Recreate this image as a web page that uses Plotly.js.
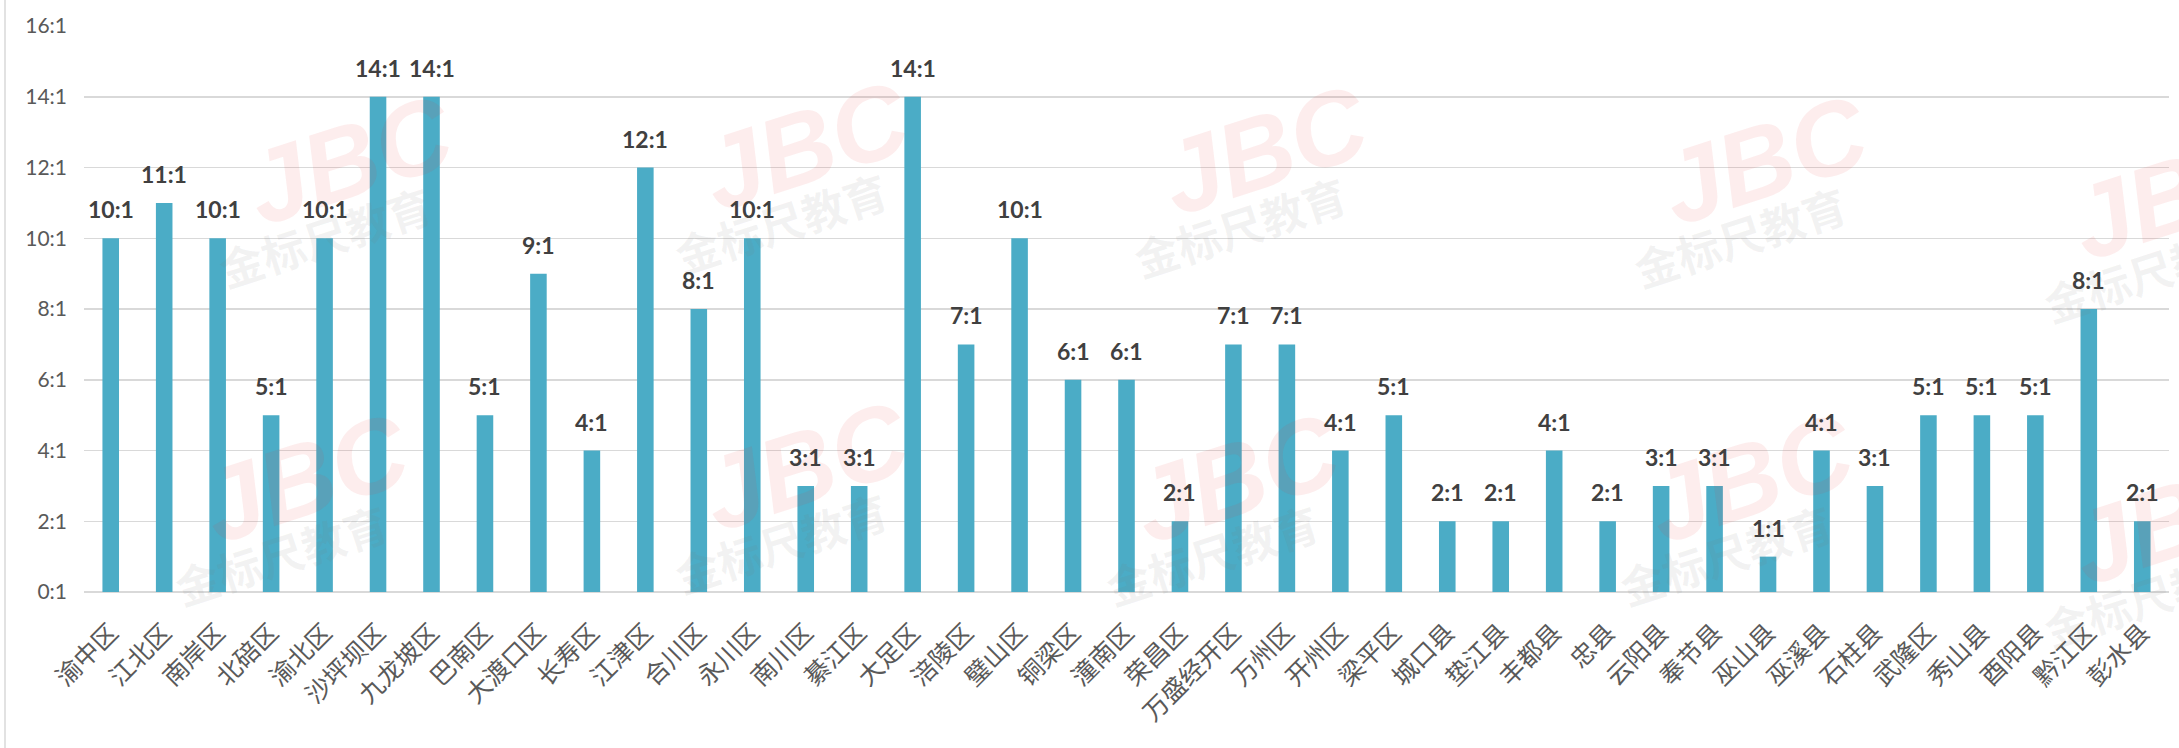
<!DOCTYPE html>
<html>
<head>
<meta charset="utf-8">
<script src="https://cdn.plot.ly/plotly-3.0.1.min.js"></script>
<style>html,body{margin:0;padding:0;background:#fff;}#chart{width:2179px;height:748px;}</style>
</head>
<body>
<div id="chart"></div>
<script>
var districts = ["渝中区","江北区","南岸区","北碚区","渝北区","沙坪坝区","九龙坡区","巴南区","大渡口区","长寿区","江津区","合川区","永川区","南川区","綦江区","大足区","涪陵区","璧山区","铜梁区","潼南区","荣昌区","万盛经开区","万州区","开州区","梁平区","城口县","垫江县","丰都县","忠县","云阳县","奉节县","巫山县","巫溪县","石柱县","武隆区","秀山县","酉阳县","黔江区","彭水县"];
var ratios = [10,11,10,5,10,14,14,5,9,4,12,8,10,3,3,14,7,10,6,6,2,7,7,4,5,2,2,4,2,3,3,1,4,3,5,5,5,8,2];
var yTickValues = [0,2,4,6,8,10,12,14,16];
var yTickLabels = ["0:1","2:1","4:1","6:1","8:1","10:1","12:1","14:1","16:1"];
var watermarkBrand = "JBC";
var watermarkName = "金标尺教育";

var trace = {
  type: 'bar',
  x: districts,
  y: ratios,
  marker: {color: '#4BACC6'},
  hoverinfo: 'x+y'
};

var annotations = [];
var wmSpots = [[350,160],[806,146],[1265,150],[1765,160],[2175,195],[306,478],[806,466],[1237,478],[1751,478],[2175,520]];
wmSpots.forEach(function(p){
  annotations.push({xref:'paper', yref:'paper', xanchor:'center', yanchor:'middle',
    x:(p[0]-84)/2085, y:(592-p[1])/566.3,
    text:'<b><i>'+watermarkBrand+'</i></b>', showarrow:false, textangle:-18,
    font:{family:'"Liberation Sans", Arial, sans-serif', size:104, color:'rgba(235,60,60,0.09)'}});
  annotations.push({xref:'paper', yref:'paper', xanchor:'center', yanchor:'middle',
    x:(p[0]-25-84)/2085, y:(592-p[1]-76)/566.3,
    text:'<b>'+watermarkName+'</b>', showarrow:false, textangle:-18,
    font:{family:'"Noto Sans CJK SC", sans-serif', size:44, color:'rgba(120,120,120,0.09)'}});
});

districts.forEach(function(d, i){
  annotations.push({xref:'x', yref:'y', x:d, y:ratios[i], text:ratios[i] + ':1',
    showarrow:false, xanchor:'center', yanchor:'bottom', yshift:13,
    font:{family:'Lato, "Open Sans", sans-serif', size:23, color:'#404040', weight:'bold'}});
});

var layout = {
  width: 2179, height: 748,
  margin: {l: 84, r: 10, t: 26, b: 156, pad: 0},
  paper_bgcolor: '#ffffff', plot_bgcolor: '#ffffff',
  showlegend: false,
  bargap: 0.69,
  xaxis: {
    type: 'category',
    tickangle: -45,
    tickfont: {family: '"Noto Sans CJK SC", sans-serif', size: 25, color: '#595959'},
    showgrid: false, showline: false, ticks: '', zeroline: false,
    ticklabelstandoff: 20,
    automargin: false
  },
  yaxis: {
    range: [0, 16],
    tickmode: 'array',
    tickvals: yTickValues,
    ticktext: yTickLabels,
    tickfont: {family: 'Lato, "Open Sans", sans-serif', size: 21, color: '#595959'},
    showgrid: true, gridcolor: '#D9D9D9', gridwidth: 1.5,
    zeroline: true, zerolinecolor: '#D9D9D9', zerolinewidth: 1.5,
    showline: false, ticks: '',
    ticklabelstandoff: 16,
    automargin: false
  },
  shapes: [{type:'line', xref:'paper', yref:'paper', x0:(5-84)/2085, x1:(5-84)/2085, y0:-0.28, y1:1.05, line:{color:'#D9D9D9', width:1.5}}],
  annotations: annotations
};

Plotly.newPlot('chart', [trace], layout, {displayModeBar: false, staticPlot: true});
</script>
</body>
</html>
